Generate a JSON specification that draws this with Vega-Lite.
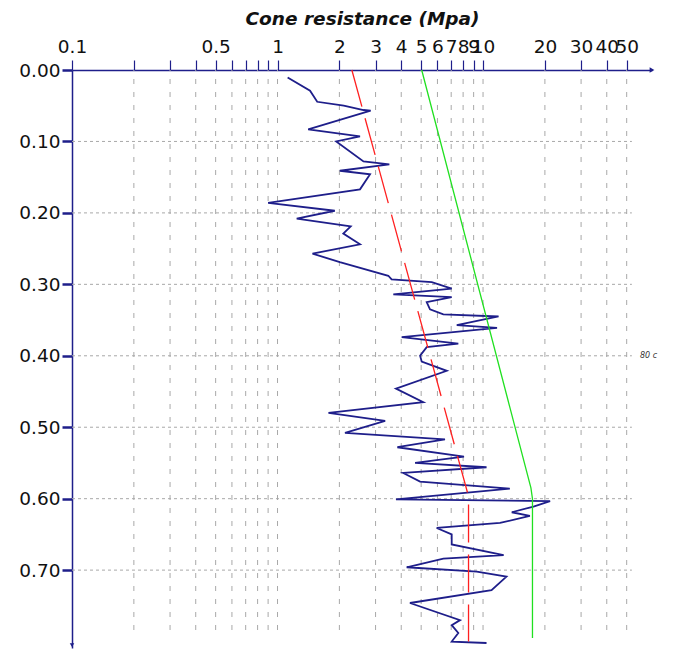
{
  "$schema": "https://vega.github.io/schema/vega-lite/v6.json",
  "width": 580,
  "height": 578,
  "autosize": {"type": "none"},
  "padding": {"left": 72, "top": 70, "right": 21, "bottom": 3},
  "background": "white",
  "config": {
    "view": {"stroke": null},
    "axis": {
      "domainColor": "#1e1e8a",
      "tickColor": "#1e1e8a",
      "domainWidth": 1.5,
      "tickWidth": 1.2,
      "tickSize": 10,
      "labelColor": "#111111",
      "labelFont": "DejaVu Sans",
      "labelFontSize": 18.5,
      "grid": false
    }
  },
  "datasets": {
    "profile": [
      {"q": 1.12, "depth": 0.0105}, {"q": 1.44, "depth": 0.029}, {"q": 1.56, "depth": 0.0445},
      {"q": 2.1, "depth": 0.05}, {"q": 2.62, "depth": 0.056}, {"q": 2.84, "depth": 0.057}, {"q": 1.41, "depth": 0.083},
      {"q": 2.52, "depth": 0.093}, {"q": 1.93, "depth": 0.1}, {"q": 2.62, "depth": 0.128},
      {"q": 3.5, "depth": 0.132}, {"q": 2.01, "depth": 0.141}, {"q": 2.82, "depth": 0.146},
      {"q": 2.52, "depth": 0.167}, {"q": 0.9, "depth": 0.186}, {"q": 1.9, "depth": 0.197},
      {"q": 1.24, "depth": 0.208}, {"q": 2.27, "depth": 0.219}, {"q": 2.09, "depth": 0.229},
      {"q": 2.52, "depth": 0.244}, {"q": 1.48, "depth": 0.257}, {"q": 2.01, "depth": 0.269},
      {"q": 3.46, "depth": 0.288}, {"q": 3.59, "depth": 0.293}, {"q": 5.63, "depth": 0.297},
      {"q": 7.04, "depth": 0.306}, {"q": 3.66, "depth": 0.314}, {"q": 7.04, "depth": 0.318},
      {"q": 5.32, "depth": 0.325}, {"q": 5.52, "depth": 0.335}, {"q": 6.41, "depth": 0.342},
      {"q": 11.9, "depth": 0.345}, {"q": 7.45, "depth": 0.357}, {"q": 11.7, "depth": 0.361},
      {"q": 4.02, "depth": 0.374}, {"q": 7.58, "depth": 0.383}, {"q": 5.32, "depth": 0.388},
      {"q": 4.94, "depth": 0.4}, {"q": 5.03, "depth": 0.408}, {"q": 6.66, "depth": 0.421},
      {"q": 3.77, "depth": 0.446}, {"q": 5.12, "depth": 0.465}, {"q": 1.77, "depth": 0.48},
      {"q": 3.34, "depth": 0.491}, {"q": 2.13, "depth": 0.508}, {"q": 6.53, "depth": 0.517},
      {"q": 3.83, "depth": 0.528}, {"q": 8.08, "depth": 0.541}, {"q": 4.67, "depth": 0.55},
      {"q": 10.4, "depth": 0.556}, {"q": 4.09, "depth": 0.564}, {"q": 4.94, "depth": 0.576},
      {"q": 13.5, "depth": 0.586}, {"q": 3.77, "depth": 0.601}, {"q": 21.2, "depth": 0.6035},
      {"q": 17.6, "depth": 0.611}, {"q": 13.8, "depth": 0.619}, {"q": 16.9, "depth": 0.624},
      {"q": 12.1, "depth": 0.634}, {"q": 5.95, "depth": 0.641}, {"q": 7.04, "depth": 0.65},
      {"q": 7.04, "depth": 0.664}, {"q": 12.6, "depth": 0.679}, {"q": 6.41, "depth": 0.684},
      {"q": 4.25, "depth": 0.696}, {"q": 9.32, "depth": 0.702}, {"q": 13.0, "depth": 0.709},
      {"q": 11.0, "depth": 0.728}, {"q": 4.41, "depth": 0.746}, {"q": 7.73, "depth": 0.77},
      {"q": 7.04, "depth": 0.777}, {"q": 7.58, "depth": 0.788}, {"q": 7.04, "depth": 0.8},
      {"q": 10.4, "depth": 0.802}
    ],
    "redline": [
      {"q": 2.3, "depth": 0.0}, {"q": 8.45, "depth": 0.594}, {"q": 8.5, "depth": 0.605}, {"q": 8.5, "depth": 0.8}
    ],
    "greenline": [
      {"q": 5.03, "depth": 0.0}, {"q": 17.1, "depth": 0.585}, {"q": 17.4, "depth": 0.6}, {"q": 17.4, "depth": 0.795}
    ],
    "vgrid": [
      {"q": 0.2}, {"q": 0.3}, {"q": 0.4}, {"q": 0.5}, {"q": 0.6}, {"q": 0.7}, {"q": 0.8}, {"q": 0.9},
      {"q": 1}, {"q": 2}, {"q": 3}, {"q": 4}, {"q": 5}, {"q": 6}, {"q": 7}, {"q": 8}, {"q": 9},
      {"q": 10}, {"q": 20}, {"q": 30}, {"q": 40}, {"q": 50}
    ],
    "hgrid": [
      {"depth": 0.1}, {"depth": 0.2}, {"depth": 0.3}, {"depth": 0.4}, {"depth": 0.5}, {"depth": 0.6}, {"depth": 0.7}
    ]
  },
  "layer": [
    {
      "data": {"name": "vgrid"},
      "mark": {"type": "rule", "color": "#a8a8a8", "strokeWidth": 1, "strokeDash": [5, 8], "strokeDashOffset": -9},
      "encoding": {
        "x": {
          "field": "q", "type": "quantitative",
          "scale": {"type": "log", "domain": [0.1, 66.4], "nice": false},
          "axis": {
            "orient": "top",
            "title": "Cone resistance (Mpa)",
            "titleFont": "DejaVu Sans",
            "titleFontSize": 18.5,
            "titleFontWeight": "bold",
            "titleFontStyle": "italic",
            "titleColor": "#111111",
            "titlePadding": 9,
            "values": [0.1, 0.2, 0.3, 0.4, 0.5, 0.6, 0.7, 0.8, 0.9, 1, 2, 3, 4, 5, 6, 7, 8, 9, 10, 20, 30, 40, 50],
            "format": "~g",
            "labelExpr": "indexof([0.2, 0.3, 0.4, 0.6, 0.7, 0.8, 0.9], datum.value) >= 0 ? '' : datum.label",
            "labelOverlap": false,
            "labelBound": false,
            "labelFlush": false,
            "labelPadding": 4
          }
        },
        "y": {"datum": 0, "type": "quantitative", "scale": {"domain": [0, 0.809], "reverse": true, "nice": false, "zero": false},
          "axis": {
            "values": [0, 0.1, 0.2, 0.3, 0.4, 0.5, 0.6, 0.7],
            "format": ".2f",
            "title": null,
            "labelOverlap": false,
            "labelPadding": 2,
            "tickWidth": 2.5
          }
        },
        "y2": {"datum": 0.788}
      }
    },
    {
      "data": {"name": "hgrid"},
      "mark": {"type": "rule", "color": "#a8a8a8", "strokeWidth": 1, "strokeDash": [3, 3]},
      "encoding": {
        "y": {"field": "depth", "type": "quantitative"},
        "x": {"datum": 0.1, "type": "quantitative"},
        "x2": {"datum": 53}
      }
    },
    {
      "data": {"name": "profile"},
      "mark": {"type": "line", "color": "#1e1e8a", "strokeWidth": 1.8, "clip": false},
      "encoding": {
        "x": {"field": "q", "type": "quantitative"},
        "y": {"field": "depth", "type": "quantitative"},
        "order": {"field": "depth", "type": "quantitative"}
      }
    },
    {
      "data": {"name": "redline"},
      "mark": {"type": "line", "color": "#ff2020", "strokeWidth": 1.3, "strokeDash": [38, 12]},
      "encoding": {
        "x": {"field": "q", "type": "quantitative"},
        "y": {"field": "depth", "type": "quantitative"},
        "order": {"field": "depth", "type": "quantitative"}
      }
    },
    {
      "data": {"name": "greenline"},
      "mark": {"type": "line", "color": "#20e020", "strokeWidth": 1.3},
      "encoding": {
        "x": {"field": "q", "type": "quantitative"},
        "y": {"field": "depth", "type": "quantitative"},
        "order": {"field": "depth", "type": "quantitative"}
      }
    },
    {
      "data": {"values": [{}]},
      "mark": {"type": "point", "shape": "triangle-right", "filled": true, "color": "#1e1e8a", "size": 30, "opacity": 1, "clip": false},
      "encoding": {
        "x": {"datum": 66.4, "type": "quantitative"},
        "y": {"datum": 0, "type": "quantitative"}
      }
    },
    {
      "data": {"values": [{}]},
      "mark": {"type": "point", "shape": "triangle-down", "filled": true, "color": "#1e1e8a", "size": 20, "opacity": 1, "clip": false},
      "encoding": {
        "x": {"datum": 0.1, "type": "quantitative"},
        "y": {"datum": 0.805, "type": "quantitative"}
      }
    },
    {
      "data": {"values": [{"note": "80 c"}]},
      "mark": {"type": "text", "font": "DejaVu Sans", "fontSize": 8, "fontStyle": "italic", "align": "left", "baseline": "middle", "color": "#333333", "clip": false},
      "encoding": {
        "x": {"datum": 58, "type": "quantitative"},
        "y": {"datum": 0.4, "type": "quantitative"},
        "text": {"field": "note"}
      }
    }
  ]
}
